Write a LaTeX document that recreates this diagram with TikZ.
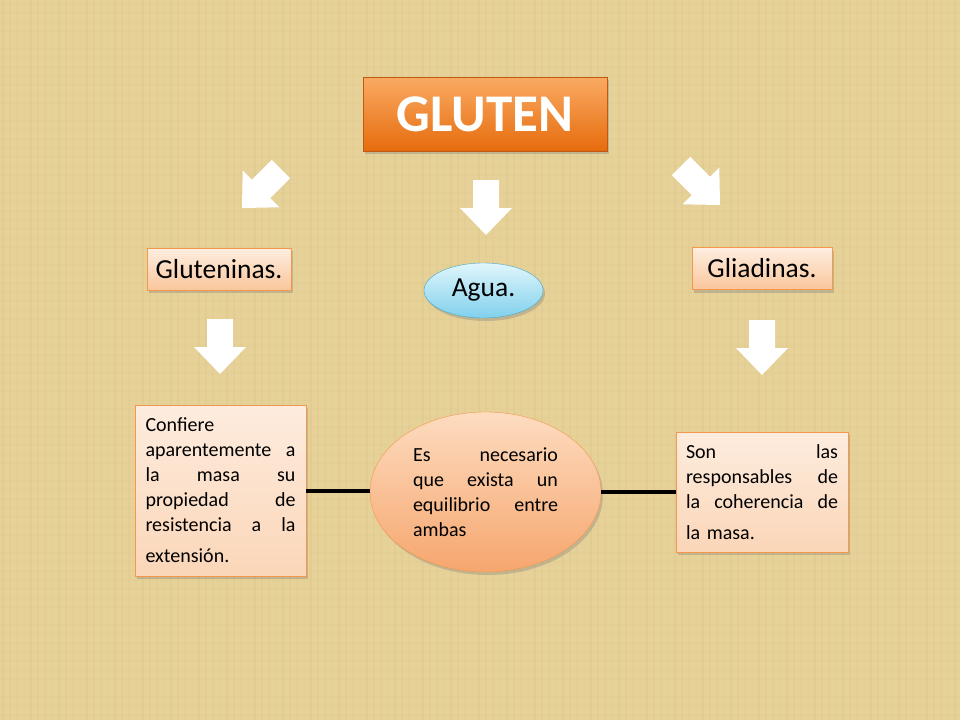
\documentclass[tikz,border=0pt]{standalone}
\usepackage{fontspec}
\setmainfont{Carlito}
\usetikzlibrary{positioning, shadows, shapes.geometric}

\definecolor{papiro}{RGB}{230,209,152}
\definecolor{fibra}{RGB}{190,160,96}
\definecolor{tituloarriba}{RGB}{250,170,100}
\definecolor{tituloabajo}{RGB}{230,108,12}
\definecolor{tituloborde}{RGB}{192,88,20}
\definecolor{cajaarriba}{RGB}{254,238,224}
\definecolor{cajaabajo}{RGB}{250,198,156}
\definecolor{cajaborde}{RGB}{244,152,76}
\definecolor{aguaarriba}{RGB}{224,246,252}
\definecolor{aguaabajo}{RGB}{128,208,236}
\definecolor{aguaborde}{RGB}{72,168,196}
\definecolor{notaarriba}{RGB}{253,236,222}
\definecolor{notaabajo}{RGB}{251,214,184}
\definecolor{centroarriba}{RGB}{253,220,192}
\definecolor{centroabajo}{RGB}{246,166,110}

\newcommand{\jline}[2][150pt]{\makebox[#1][s]{\spaceskip=.25em plus 1fil\relax #2}}

\tikzset{
    flecha/.pic={\fill[white] (0,0) -- (-26,-27) -- (-13,-27) -- (-13,-55) -- (13,-55) -- (13,-27) -- (26,-27) -- cycle;},
    hebra/.style={draw=fibra, line width=1.3pt},
    sombra/.style={drop shadow={shadow xshift=2pt, shadow yshift=-3pt, opacity=0.35}},
    titulo/.style={rectangle, draw=tituloborde, top color=tituloarriba, bottom color=tituloabajo, sombra,
        minimum width=244pt, minimum height=74pt, inner sep=0pt, text=white,
        font=\fontsize{53}{60}\selectfont\bfseries},
    etiqueta/.style={rectangle, draw=cajaborde, top color=cajaarriba, bottom color=cajaabajo, sombra,
        minimum height=42pt, inner sep=0pt, font=\fontsize{27.5}{32}\selectfont},
    nota/.style={rectangle, draw=cajaborde, top color=notaarriba, bottom color=notaabajo, sombra,
        inner sep=0pt, align=left, font=\fontsize{20}{25}\selectfont},
    enlace/.style={line width=4pt, black}
}

\begin{document}
\begin{tikzpicture}[x=1pt, y=-1pt]
    \fill[papiro] (0,0) rectangle (960,720);
    \useasboundingbox (0,0) rectangle (960,720);
    \foreach \x [evaluate=\x as \op using {0.02+0.025*mod(\x,4)}] in {3,10,...,960}
        \draw[hebra, opacity=\op] (\x,0) -- (\x,720);
    \foreach \y [evaluate=\y as \op using {0.02+0.02*mod(\y,3)}] in {4,13,...,720}
        \draw[hebra, opacity=\op] (0,\y) -- (960,\y);

    % titulo y ramas
    \node[titulo] (gluten) at (485,114) {GLUTEN};
    \node[etiqueta, minimum width=144pt] (glut) at (219,269) {Gluteninas.};
    \node[etiqueta, minimum width=140pt] (glia) at (762,268.5) {Gliadinas.};
    \node[ellipse, draw=aguaborde, top color=aguaarriba, bottom color=aguaabajo, sombra,
        minimum width=119pt, minimum height=55pt, inner sep=0pt,
        font=\fontsize{27.5}{32}\selectfont] (agua) at (483.5,290.5) {Agua.};

    % flechas
    \pic[rotate=-45] at (242,208) {flecha};
    \pic at (486,235) {flecha};
    \pic[rotate=45] at (720,205) {flecha};
    \pic at (220,374) {flecha};
    \pic at (762,375) {flecha};

    % notas
    \node[nota, minimum width=171pt, minimum height=171pt, text width=150pt] (izq) at (220.5,490.5)
        {Confiere\\ \jline{aparentemente a}\\ \jline{la masa su}\\ \jline{propiedad de}\\
         \jline{resistencia a la}\\[6pt] extensión.};
    \node[nota, minimum width=172pt, minimum height=120pt, text width=152pt] (der) at (762,492)
        {\jline[152pt]{Son las}\\ \jline[152pt]{responsables de}\\ \jline[152pt]{la coherencia de}\\[6pt] la masa.};
    \node[ellipse, draw=cajaborde, top color=centroarriba, bottom color=centroabajo, sombra,
        minimum width=231pt, minimum height=160pt, inner sep=0pt, text width=145pt, align=left,
        font=\fontsize{20}{25}\selectfont] (centro) at (485.5,492)
        {\jline[145pt]{Es necesario}\\ \jline[145pt]{que exista un}\\ \jline[145pt]{equilibrio entre}\\ ambas};

    \draw[enlace] (izq.east) -- (izq.east -| centro.west);
    \draw[enlace] (centro.east) -- (centro.east -| der.west);
\end{tikzpicture}
\end{document}
